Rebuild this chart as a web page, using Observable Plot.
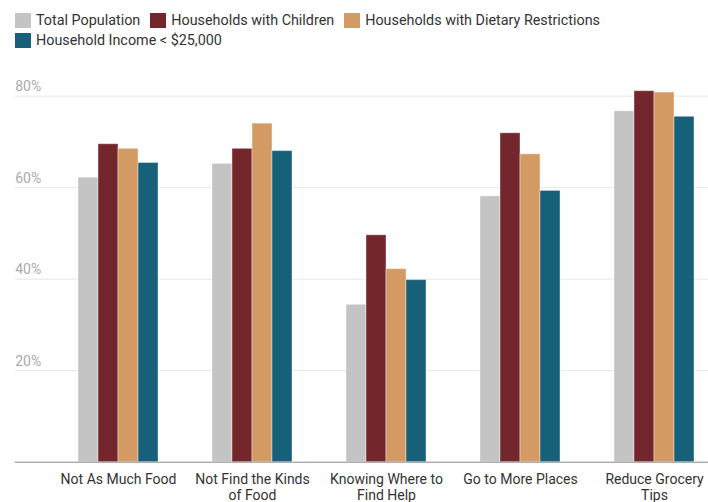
<!DOCTYPE html>
<html><head><meta charset="utf-8">
<script src="https://cdn.jsdelivr.net/npm/d3@7"></script>
<script src="https://cdn.jsdelivr.net/npm/@observablehq/plot@0.6"></script>
<style>
body{margin:0;background:#fff;overflow:hidden;font-family:Roboto,sans-serif;}
#legend{height:46px;padding:10px 0 0 15px;width:693px;display:flex;flex-wrap:wrap;align-content:flex-start;font-size:14.35px;color:#333;}
.item{display:flex;align-items:center;height:20px;margin-right:10px;white-space:nowrap;}
.sw{width:16px;height:15px;margin-right:5px;}
#chart svg{overflow:hidden;display:block;}
</style></head><body>
<div id="legend"></div><div id="chart"></div>
<script>
const categories = ["Not As Much Food","Not Find the Kinds of Food","Knowing Where to Find Help","Go to More Places","Reduce Grocery Tips"];
const categoryLabels = ["Not As Much Food","Not Find the Kinds\nof Food","Knowing Where to\nFind Help","Go to More Places","Reduce Grocery\nTips"];
const seriesNames = ["Total Population","Households with Children","Households with Dietary Restrictions","Household Income < $25,000"];
const seriesColors = ["#c4c4c4","#73262b","#d49a63","#166079"];
const totalPopulation = [62.2,65.2,34.4,58.1,76.7];
const withChildren = [69.5,68.5,49.6,71.9,81.1];
const dietaryRestrictions = [68.5,74.0,42.2,67.3,80.8];
const lowIncome = [65.4,68.0,39.8,59.3,75.5];
const yTicks = [20,40,60,80];

const seriesValues = [totalPopulation, withChildren, dietaryRestrictions, lowIncome];
const rows = [];
categories.forEach((c,i)=> seriesValues.forEach((vals,j)=> rows.push({category:c, series:seriesNames[j], value:vals[i]})));

// grid lines: one set per facet; the first facet's set also reaches left to the labels
const gridRows = [];
categories.forEach(c => yTicks.forEach(t => gridRows.push({category:c, tick:t})));
const first = categories[0];
const gridFirst = gridRows.filter(d => d.category === first);
const gridRest = gridRows.filter(d => d.category !== first);
const baseRows = categories.map(c => ({category:c, tick:0}));

const legend = document.getElementById("legend");
seriesNames.forEach((s,i)=>{
  const it = document.createElement("div"); it.className="item";
  const sw = document.createElement("div"); sw.className="sw"; sw.style.background=seriesColors[i];
  const tx = document.createElement("span"); tx.textContent=s;
  it.appendChild(sw); it.appendChild(tx); legend.appendChild(it);
});

const plot = Plot.plot({
  width:708, height:446, marginTop:39.7, marginBottom:40.3, marginLeft:0, marginRight:0,
  style:{fontFamily:"Roboto", fontSize:"14px", background:"#fff", color:"#333"},
  fx:{domain:categories, range:[51.3,721.5], padding:0, axis:null},
  x:{domain:seriesNames, padding:0, insetLeft:27, insetRight:27, axis:null},
  y:{domain:[0,80], axis:null},
  color:{domain:seriesNames, range:seriesColors},
  marks:[
    Plot.ruleY(gridRest, {fx:"category", y:"tick", stroke:"#e6e6e6"}),
    Plot.ruleY(gridFirst, {fx:"category", y:"tick", stroke:"#e6e6e6", insetLeft:-36.3}),
    Plot.barY(rows, {fx:"category", x:"series", y:"value", fill:"series", stroke:"#fff", strokeOpacity:0.4}),
    Plot.ruleY(baseRows.filter(d=>d.category!==first), {fx:"category", y:"tick", stroke:"#888"}),
    Plot.ruleY(baseRows.filter(d=>d.category===first), {fx:"category", y:"tick", stroke:"#888", insetLeft:-36.3}),
    Plot.text(yTicks, {fx:()=>first, y:d=>d, text:d=>d+"%", frameAnchor:"left", textAnchor:"start", dx:-36.3, dy:-9.5, fill:"#aaa"}),
    Plot.text(categories, {fx:d=>d, text:(d,i)=>categoryLabels[i], frameAnchor:"bottom", lineAnchor:"top", dy:11.3, lineHeight:1.1, fill:"#333"})
  ]
});
document.getElementById("chart").appendChild(plot);
</script>
</body></html>
